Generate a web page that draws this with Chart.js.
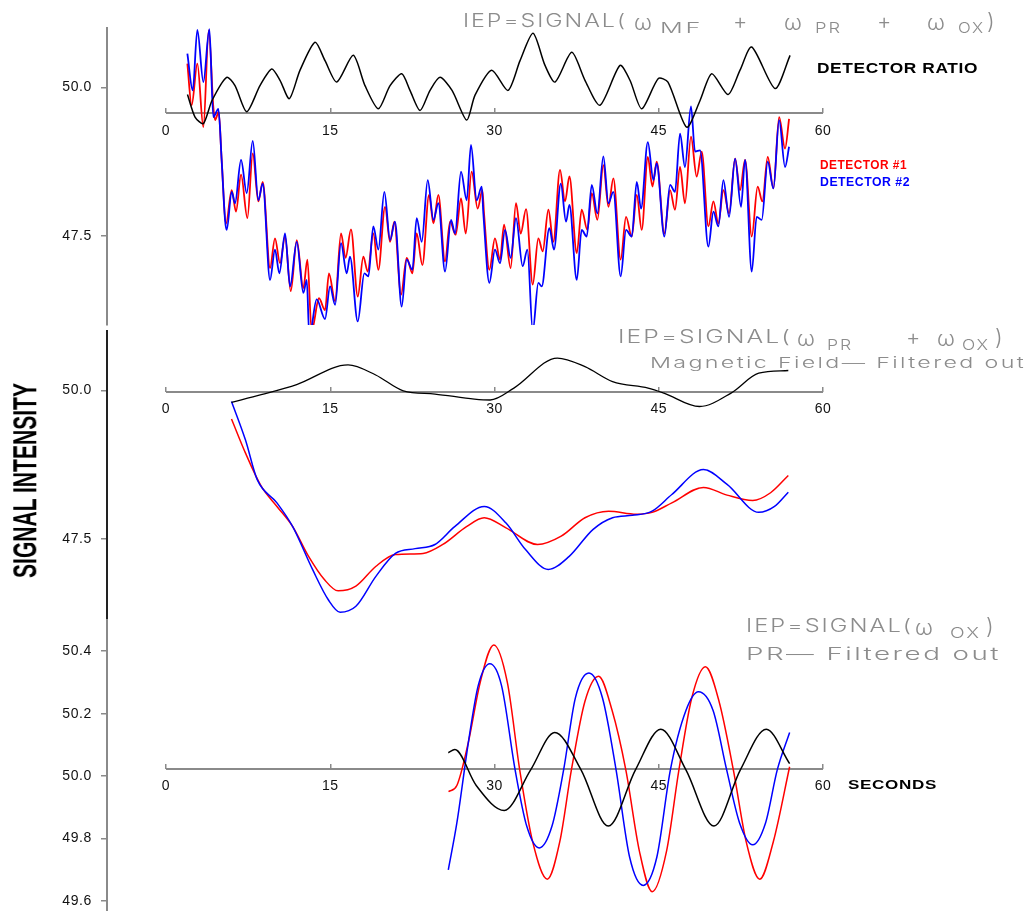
<!DOCTYPE html>
<html>
<head>
<meta charset="utf-8">
<script src="https://cdn.jsdelivr.net/npm/chart.js@4.4.1/dist/chart.umd.min.js"></script>
<style>
  html, body { margin: 0; padding: 0; background: #fff; }
  body { width: 1029px; height: 911px; position: relative; overflow: hidden; font-family: "Liberation Sans", Arial, sans-serif; }
  .panel { position: absolute; left: 0; }
  .txt { position: absolute; white-space: nowrap; line-height: 1; }
  .eq { color: #8c8c8c; font-family: "Inter", "Open Sans", sans-serif; font-weight: 300; }
  .bold { font-weight: bold; font-family: "Liberation Sans", Arial, sans-serif; }
</style>
</head>
<body>
<canvas class="panel" id="c1" width="1029" height="330" style="top:0px"></canvas>
<canvas class="panel" id="c2" width="1029" height="310" style="top:320px"></canvas>
<canvas class="panel" id="c3" width="1029" height="301" style="top:610px"></canvas>
<script>
// ---- data (seconds / signal) ----
const xTicks = [0, 15, 30, 45, 60];
const topYTicks = [47.5, 50.0];
const midYTicks = [47.5, 50.0];
const lowYTicks = [49.6, 49.8, 50.0, 50.2, 50.4];

// top panel: detector ratio (black)
const topRatioT = [1.96, 2.65, 3.41, 4.2, 5.54, 6.3, 7.37, 8.58, 9.65, 10.41, 11.26, 12.24, 13.61, 14.52, 15.59, 17.1, 18.17, 19.39, 20.46, 21.53, 22.28, 23.2, 24.11, 25.02, 26.12, 27.46, 28.22, 29.74, 31.23, 32.33, 33.52, 34.61, 35.53, 37.05, 38.26, 39.63, 41.46, 42.37, 43.44, 44.96, 45.84, 47.55, 48.77, 49.84, 51.33, 52.42, 53.49, 55.62, 56.99];
const topRatioV = [49.88, 49.50, 49.39, 49.78, 50.17, 50.03, 49.59, 50.03, 50.31, 50.12, 49.81, 50.29, 50.76, 50.45, 50.09, 50.54, 50.03, 49.64, 50.03, 50.23, 49.95, 49.61, 49.95, 50.17, 49.95, 49.45, 49.87, 50.29, 49.95, 50.45, 50.91, 50.37, 50.09, 50.59, 50.12, 49.70, 50.37, 50.12, 49.64, 50.15, 50.09, 49.33, 49.78, 50.23, 49.88, 50.29, 50.68, 49.98, 50.54];

// top panel: detector #1 (red)
const topRedT = [1.95, 2.34, 2.86, 3.41, 3.9, 4.32, 4.48, 4.81, 5.08, 5.48, 6.0, 6.39, 6.85, 7.43, 7.92, 8.43, 8.83, 9.5, 9.95, 10.41, 10.87, 11.39, 11.94, 12.54, 12.91, 13.3, 13.97, 14.52, 14.88, 15.44, 15.98, 16.4, 16.89, 17.51, 18.02, 18.42, 18.93, 19.39, 20.0, 20.46, 20.85, 21.46, 21.98, 22.5, 22.89, 23.41, 24.02, 24.42, 24.87, 25.48, 25.94, 26.45, 26.94, 27.37, 27.91, 28.46, 28.89, 29.04, 29.53, 30.04, 30.5, 30.87, 31.47, 31.96, 32.39, 32.88, 33.49, 34.0, 34.4, 34.92, 35.37, 35.98, 36.44, 36.84, 37.51, 37.96, 38.48, 38.88, 39.39, 39.94, 40.4, 40.85, 41.52, 42.01, 42.53, 42.99, 43.44, 44.0, 44.42, 44.81, 45.51, 46.03, 46.48, 46.94, 47.39, 47.94, 48.46, 48.92, 49.53, 49.99, 50.44, 50.9, 51.42, 51.97, 52.42, 52.88, 53.49, 54.03, 54.46, 54.95, 55.47, 55.99, 56.53, 56.9];
const topRedV = [50.40, 49.70, 50.40, 49.33, 50.96, 49.67, 49.45, 49.59, 48.78, 47.71, 48.27, 47.91, 48.53, 47.80, 48.89, 48.08, 48.41, 46.96, 47.46, 47.04, 47.49, 46.57, 47.43, 46.62, 47.10, 45.90, 46.45, 46.25, 46.87, 46.40, 47.54, 47.13, 47.61, 46.48, 47.15, 46.90, 47.54, 46.93, 47.99, 47.40, 47.74, 46.51, 47.13, 46.87, 47.54, 47.01, 48.19, 47.71, 48.19, 47.07, 47.74, 47.52, 48.13, 47.54, 48.58, 47.96, 48.27, 47.88, 46.93, 47.46, 47.10, 47.69, 46.96, 48.05, 47.54, 47.95, 46.68, 47.46, 47.24, 47.94, 47.40, 48.61, 48.08, 48.50, 47.21, 47.94, 47.60, 48.22, 47.77, 48.69, 47.99, 48.47, 47.10, 47.82, 47.49, 48.19, 47.60, 48.83, 48.33, 48.75, 47.54, 48.27, 47.94, 48.66, 48.05, 49.17, 48.50, 48.92, 47.66, 48.08, 47.71, 48.27, 47.88, 48.80, 48.27, 48.78, 47.49, 48.33, 48.08, 48.83, 48.30, 49.50, 48.97, 49.47];

// top panel: detector #2 (blue)
const topBlueT = [1.95, 2.44, 2.86, 3.41, 3.96, 4.32, 4.78, 5.08, 5.39, 5.54, 6.0, 6.3, 6.85, 7.37, 7.92, 8.43, 8.83, 9.5, 9.95, 10.35, 10.87, 11.33, 11.94, 12.54, 12.85, 13.09, 13.76, 14.52, 14.98, 15.44, 15.98, 16.5, 16.8, 17.51, 18.11, 18.48, 18.93, 19.39, 19.94, 20.46, 20.91, 21.52, 21.98, 22.5, 22.89, 23.35, 23.9, 24.42, 24.87, 25.48, 26.03, 26.39, 26.94, 27.46, 27.85, 28.37, 28.83, 28.98, 29.53, 30.04, 30.5, 30.96, 31.47, 31.96, 32.57, 33.0, 33.49, 34.0, 34.31, 35.01, 35.43, 36.05, 36.53, 36.84, 37.51, 37.96, 38.42, 38.88, 39.39, 39.94, 40.4, 40.85, 41.52, 42.01, 42.53, 42.99, 43.38, 44.0, 44.51, 44.81, 45.51, 46.03, 46.48, 46.94, 47.39, 47.94, 48.31, 48.77, 49.53, 49.99, 50.44, 50.9, 51.42, 51.97, 52.51, 52.88, 53.49, 53.94, 54.4, 54.95, 55.47, 55.99, 56.53, 56.9];
const topBlueV = [50.57, 49.95, 50.97, 50.09, 50.98, 49.50, 49.64, 48.78, 47.77, 47.60, 48.24, 48.05, 48.78, 48.22, 49.10, 48.10, 48.38, 46.76, 47.27, 46.87, 47.54, 46.65, 47.40, 46.54, 46.76, 45.80, 46.43, 46.10, 46.65, 46.34, 47.38, 46.87, 47.15, 46.06, 46.87, 46.82, 47.66, 47.27, 48.24, 47.43, 47.74, 46.31, 47.10, 46.93, 47.80, 47.40, 48.44, 47.77, 48.05, 46.90, 47.77, 47.54, 48.58, 48.10, 49.03, 48.10, 48.33, 47.88, 46.71, 47.27, 47.04, 47.60, 47.13, 47.80, 46.99, 47.27, 45.90, 46.71, 46.65, 47.63, 47.27, 48.38, 47.74, 48.02, 46.76, 47.60, 47.49, 48.36, 47.88, 48.84, 48.05, 48.24, 46.82, 47.60, 47.49, 48.41, 47.96, 49.08, 48.44, 48.72, 47.49, 48.36, 48.24, 49.22, 48.66, 49.68, 48.92, 48.94, 47.32, 47.91, 47.66, 48.44, 47.82, 48.80, 47.99, 48.78, 46.90, 47.82, 47.77, 48.75, 48.30, 49.45, 48.66, 49.00];

// middle panel (magnetic field filtered out)
const midRatioT = [5.98, 8.69, 11.93, 16.62, 19.15, 21.67, 24.56, 28.16, 29.6, 31.77, 35.74, 38.26, 40.78, 44.03, 45.47, 48.72, 51.6, 54.13, 56.83];
const midRatioV = [49.80, 49.93, 50.10, 50.43, 50.26, 49.995, 49.94, 49.855, 49.84, 50.04, 50.545, 50.40, 50.15, 50.04, 49.956, 49.73, 49.956, 50.29, 50.336];
const midRedT = [5.98, 7.25, 8.69, 10.13, 11.57, 13.02, 14.46, 15.72, 17.34, 19.15, 20.95, 23.47, 25.28, 27.44, 29.06, 31.05, 33.93, 36.09, 38.26, 40.42, 42.95, 44.39, 46.19, 49.08, 51.24, 53.58, 55.21, 56.83];
const midRedV = [49.52, 48.95, 48.39, 48.05, 47.71, 47.21, 46.82, 46.63, 46.71, 47.04, 47.24, 47.26, 47.41, 47.71, 47.86, 47.69, 47.41, 47.55, 47.86, 47.97, 47.92, 47.95, 48.11, 48.37, 48.24, 48.15, 48.28, 48.57];
const midBlueT = [5.98, 7.25, 8.33, 10.13, 11.57, 13.38, 14.82, 15.9, 17.34, 19.15, 20.95, 22.75, 24.56, 26.36, 29.06, 31.05, 32.85, 34.91, 36.82, 38.98, 40.78, 42.59, 44.39, 46.19, 49.08, 51.24, 54.13, 55.57, 56.83];
const midBlueV = [49.815, 49.17, 48.50, 48.11, 47.71, 46.99, 46.48, 46.27, 46.37, 46.87, 47.26, 47.34, 47.41, 47.71, 48.05, 47.77, 47.32, 46.99, 47.21, 47.66, 47.86, 47.90, 47.97, 48.25, 48.67, 48.42, 47.95, 48.05, 48.29];

// bottom panel (PR filtered out)
const lowRatioT = [25.78, 26.38, 28.33, 30.89, 33.3, 35.5, 37.9, 40.39, 42.87, 45.18, 47.48, 50.04, 52.45, 54.82, 56.95];
const lowRatioV = [50.075, 50.085, 49.97, 49.89, 50.02, 50.14, 50.02, 49.84, 50.02, 50.15, 50.02, 49.84, 50.02, 50.15, 50.04];
const lowRedT = [25.8, 26.56, 27.62, 28.69, 29.93, 31.17, 32.3, 33.48, 34.82, 35.96, 37.02, 38.26, 39.5, 40.74, 41.99, 43.23, 44.4, 45.71, 46.84, 48.01, 49.26, 50.5, 51.81, 52.98, 54.22, 55.46, 56.95];
const lowRedV = [49.95, 49.97, 50.11, 50.30, 50.42, 50.30, 50.02, 49.79, 49.67, 49.79, 50.02, 50.24, 50.32, 50.21, 50.02, 49.76, 49.63, 49.76, 50.02, 50.25, 50.35, 50.24, 50.02, 49.79, 49.67, 49.79, 50.03];
const lowBlueT = [25.78, 26.56, 27.62, 28.51, 29.57, 30.64, 31.88, 32.94, 34.08, 35.25, 36.31, 37.38, 38.62, 39.86, 41.1, 42.34, 43.58, 44.82, 46.06, 47.48, 48.62, 49.96, 51.2, 52.38, 53.58, 54.75, 55.82, 56.95];
const lowBlueV = [49.70, 49.85, 50.11, 50.29, 50.36, 50.29, 50.02, 49.84, 49.77, 49.84, 50.02, 50.25, 50.33, 50.25, 50.02, 49.74, 49.65, 49.74, 50.02, 50.21, 50.27, 50.21, 50.02, 49.85, 49.78, 49.85, 50.02, 50.14];

// ---- chart setup ----
Chart.defaults.font.family = '"Liberation Sans", Arial, sans-serif';

const X_MIN = -5.39, X_MAX = 78.81;   // so that 0..60 lands at 166..823 px

// draws the inner time axis only between first and last tick
const xAxisLine = {
  id: 'xAxisLine',
  beforeDatasetsDraw(chart, args, opts) {
    const { ctx, scales: { x, y } } = chart;
    const py = Math.round(y.getPixelForValue(opts.at));
    ctx.save();
    ctx.strokeStyle = '#8a8a8a';
    ctx.lineWidth = 2;
    ctx.beginPath();
    ctx.moveTo(x.getPixelForValue(xTicks[0]), py);
    ctx.lineTo(x.getPixelForValue(xTicks[xTicks.length - 1]), py);
    ctx.stroke();
    ctx.restore();
  }
};

const spacing = {
  id: 'spacing',
  beforeDraw(chart) { chart.ctx.letterSpacing = '0.6px'; }
};

function pts(t, v) {
  return t.map((x, i) => ({ x: x, y: v[i] }));
}

function series(t, v, color, width, smooth) {
  return {
    data: pts(t, v),
    borderColor: color,
    borderWidth: width,
    pointRadius: 0,
    fill: false,
    cubicInterpolationMode: smooth ? 'monotone' : 'default',
    tension: smooth ? 0 : 0.25
  };
}

function makePanel(id, yMin, yMax, yTicks, axisAt, padTop, padBottom, yAxisColor, datasets) {
  return new Chart(document.getElementById(id), {
    type: 'line',
    data: { datasets: datasets },
    plugins: [xAxisLine, spacing],
    options: {
      responsive: false,
      animation: false,
      events: [],
      layout: { padding: { top: padTop, bottom: padBottom, left: 0, right: 0 } },
      plugins: {
        legend: { display: false },
        tooltip: { enabled: false },
        xAxisLine: { at: axisAt }
      },
      scales: {
        x: {
          type: 'linear',
          min: X_MIN,
          max: X_MAX,
          position: { y: axisAt },
          afterBuildTicks: s => { s.ticks = xTicks.map(v => ({ value: v })); },
          afterFit: s => { s.height = 0; s.paddingLeft = 0; s.paddingRight = 0; },
          ticks: { color: '#111', font: { size: 14 }, padding: 14, maxRotation: 0, autoSkip: false },
          grid: { drawOnChartArea: false, tickLength: -5, color: '#8a8a8a', lineWidth: 1.5 },
          border: { display: false }
        },
        y: {
          type: 'linear',
          min: yMin,
          max: yMax,
          afterBuildTicks: s => { s.ticks = yTicks.map(v => ({ value: v })); },
          afterFit: s => { s.width = 107; s.paddingTop = 0; s.paddingBottom = 0; },
          ticks: { color: '#111', font: { size: 14 }, padding: 9, callback: v => v.toFixed(1) },
          grid: { drawOnChartArea: false, tickLength: 6, color: '#8a8a8a', lineWidth: 1.5 },
          border: { color: yAxisColor, width: 2 }
        }
      }
    }
  });
}

makePanel('c1', 46.0, 51.0, topYTicks, 49.564, 28, 5, '#8a8a8a', [
  series(topRatioT, topRatioV, '#000', 1.5, false),
  series(topBlueT, topBlueV, '#0000ff', 1.8, true),
  series(topRedT, topRedV, '#ff0000', 1.8, true)
]);

makePanel('c2', 46.14, 51.0, midYTicks, 49.98, 11, 10, '#222', [
  series(midRatioT, midRatioV, '#000', 1.3, true),
  series(midBlueT, midBlueV, '#0000ff', 1.5, true),
  series(midRedT, midRedV, '#ff0000', 1.5, true)
]);

makePanel('c3', 49.568, 50.5, lowYTicks, 50.023, 10, 0, '#8a8a8a', [
  series(lowRatioT, lowRatioV, '#000', 1.5, true),
  series(lowBlueT, lowBlueV, '#0000ff', 1.5, true),
  series(lowRedT, lowRedV, '#ff0000', 1.5, true)
]);

// ---- text ----
// [left, right (0 = natural width), cap top, size, text, class, color]
const texts = [
  [463, 627, 15, 18, 'IEP=SIGNAL(', 'eq'],
  [634, 0, 14, 22, 'ω', 'eq'],
  [660, 703, 23, 14, 'MF', 'eq'],
  [733, 0, 13, 22, '+', 'eq'],
  [784, 0, 14, 22, 'ω', 'eq'],
  [815, 842, 23, 14, 'PR', 'eq'],
  [877, 0, 13, 22, '+', 'eq'],
  [927, 0, 14, 22, 'ω', 'eq'],
  [958, 985, 23, 14, 'OX', 'eq'],
  [987, 0, 13, 22, ')', 'eq'],

  [618, 792, 331, 18, 'IEP=SIGNAL(', 'eq'],
  [797, 0, 330, 22, 'ω', 'eq'],
  [827, 853, 340, 14, 'PR', 'eq'],
  [906, 0, 329, 22, '+', 'eq'],
  [937, 0, 330, 22, 'ω', 'eq'],
  [962, 990, 340, 14, 'OX', 'eq'],
  [995, 0, 329, 22, ')', 'eq'],
  [650, 1026, 357, 15, 'Magnetic Field— Filtered out', 'eq'],

  [746, 913, 620, 18, 'IEP=SIGNAL(', 'eq'],
  [915, 0, 619, 22, 'ω', 'eq'],
  [950, 981, 628, 14, 'OX', 'eq'],
  [986, 0, 618, 22, ')', 'eq'],
  [746, 1001, 648, 17, 'PR— Filtered out', 'eq'],

  [817, 978, 63, 14, 'DETECTOR RATIO', 'bold', '#000'],
  [820, 907, 161, 12, 'DETECTOR #1', 'bold', '#ff0000'],
  [820, 910, 178, 12, 'DETECTOR #2', 'bold', '#0000ff'],
  [848, 937, 780, 13, 'SECONDS', 'bold', '#000']
];

texts.forEach(([x0, x1, capTop, size, txt, cls, color]) => {
  const d = document.createElement('div');
  d.className = 'txt ' + cls;
  d.textContent = txt;
  d.style.fontSize = size + 'px';
  d.style.left = x0 + 'px';
  d.style.top = (capTop - 0.14 * size) + 'px';
  if (color) d.style.color = color;
  document.body.appendChild(d);
  if (x1 && txt.length > 1) {
    // widen the glyphs a little, then stretch to the measured span
    d.style.letterSpacing = cls === 'eq' ? '1.5px' : '0.5px';
    const w = d.getBoundingClientRect().width;
    d.style.transformOrigin = 'left top';
    d.style.transform = 'scaleX(' + ((x1 - x0) / w) + ')';
  }
});

// vertical axis title, condensed bold
const yt = document.createElement('div');
yt.className = 'txt bold';
yt.textContent = 'SIGNAL INTENSITY';
yt.style.fontSize = '33px';
yt.style.color = '#000';
document.body.appendChild(yt);
const ytw = yt.getBoundingClientRect().width;
const yth = yt.getBoundingClientRect().height;
yt.style.left = (25 - ytw / 2) + 'px';
yt.style.top = (480 - yth / 2) + 'px';
yt.style.transformOrigin = 'center center';
yt.style.transform = 'rotate(-90deg) scaleX(' + (195 / ytw) + ')';
</script>
</body>
</html>
